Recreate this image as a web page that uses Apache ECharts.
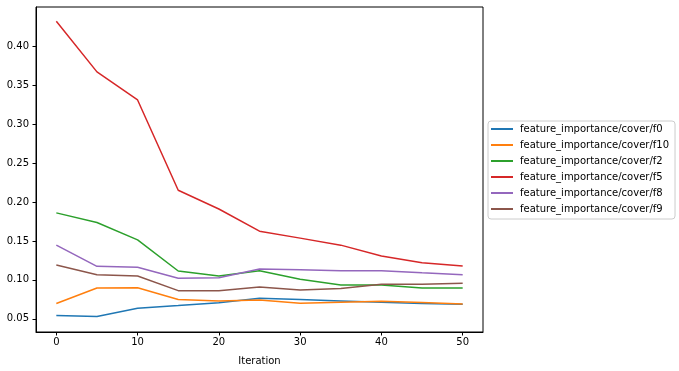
<!DOCTYPE html>
<html>
<head>
<meta charset="utf-8">
<script src="https://cdn.jsdelivr.net/npm/echarts@6/dist/echarts.min.js"></script>
<style>
html,body{margin:0;padding:0;background:#fff;}
#chart{width:679px;height:371px;}
</style>
</head>
<body>
<div id="chart"></div>
<script>
const iterations = [0, 5, 10, 15, 20, 25, 30, 35, 40, 45, 50];
const f0  = [0.0542, 0.0530, 0.0637, 0.0670, 0.0705, 0.0765, 0.0747, 0.0730, 0.0713, 0.0696, 0.0688];
const f10 = [0.0696, 0.0896, 0.0900, 0.0747, 0.0730, 0.0743, 0.0700, 0.0713, 0.0726, 0.0709, 0.0692];
const f2  = [0.1860, 0.1736, 0.1514, 0.1114, 0.1050, 0.1118, 0.1008, 0.0935, 0.0935, 0.0896, 0.0896];
const f5  = [0.4320, 0.3670, 0.3310, 0.2150, 0.1910, 0.1625, 0.1536, 0.1446, 0.1306, 0.1220, 0.1178];
const f8  = [0.1446, 0.1174, 0.1161, 0.1020, 0.1028, 0.1140, 0.1130, 0.1118, 0.1118, 0.1092, 0.1067];
const f9  = [0.1190, 0.1067, 0.1050, 0.0862, 0.0862, 0.0909, 0.0871, 0.0888, 0.0944, 0.0944, 0.0956];
const seriesNames = ['feature_importance/cover/f0','feature_importance/cover/f10','feature_importance/cover/f2','feature_importance/cover/f5','feature_importance/cover/f8','feature_importance/cover/f9'];
const seriesData = [f0, f10, f2, f5, f8, f9];
const colors = ['#1f77b4','#ff7f0e','#2ca02c','#d62728','#9467bd','#8c564b'];
const xTicks = [0, 10, 20, 30, 40, 50];
const yTicks = [0.05, 0.10, 0.15, 0.20, 0.25, 0.30, 0.35, 0.40];

const font = 'DejaVu Sans';
const chart = echarts.init(document.getElementById('chart'), null, {renderer:'canvas'});
chart.setOption({
  animation: false,
  backgroundColor: '#fff',
  color: colors,
  grid: {left: 36, top: 7, right: 196, bottom: 38, show: true, borderColor: '#000', borderWidth: 1, backgroundColor: 'transparent'},
  legend: {
    orient: 'vertical', left: 488, top: 121,
    data: seriesNames.map(n => ({name: n, icon: 'rect'})),
    itemWidth: 22, itemHeight: 2, itemGap: 4,
    padding: [2, 6, 4, 3],
    backgroundColor: '#fff', borderColor: '#cccccc', borderWidth: 1, borderRadius: 3,
    textStyle: {fontFamily: font, fontSize: 10, color: '#000', lineHeight: 12, padding: [0,0,0,2]}
  },
  xAxis: {
    type: 'value', min: -2.5, max: 52.5,
    name: 'Iteration', nameLocation: 'middle', nameGap: 24,
    nameTextStyle: {fontFamily: font, fontSize: 10, color: '#000'},
    axisLine: {show: true, onZero: false, lineStyle: {color: '#000', width: 1}},
    axisTick: {show: true, length: 3.5, customValues: xTicks, lineStyle: {color: '#000'}},
    axisLabel: {customValues: xTicks, margin: 5, fontFamily: font, fontSize: 10, color: '#000'},
    splitLine: {show: false}
  },
  yAxis: {
    type: 'value', min: 0.0331, max: 0.4503,
    axisLine: {show: true, onZero: false, lineStyle: {color: '#000', width: 1}},
    axisTick: {show: true, length: 3.5, customValues: yTicks, lineStyle: {color: '#000'}},
    axisLabel: {customValues: yTicks, margin: 7, fontFamily: font, fontSize: 10, color: '#000', formatter: v => v.toFixed(2)},
    splitLine: {show: false}
  },
  series: seriesNames.map((n, i) => ({
    name: n, type: 'line', showSymbol: false, symbol: 'none',
    lineStyle: {width: 1.5, color: colors[i]},
    itemStyle: {color: colors[i]},
    data: iterations.map((x, j) => [x, seriesData[i][j]])
  }))
});
</script>
</body>
</html>
